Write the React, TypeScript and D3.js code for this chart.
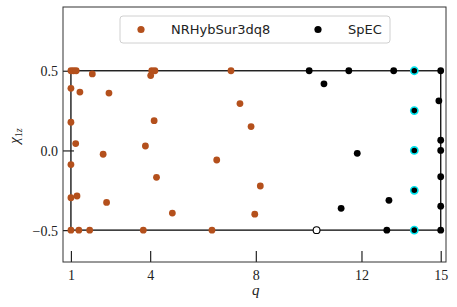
import { useRef, useEffect } from 'react';
import * as d3 from 'd3';

const W = 457;
const H = 307;

const NR_COLOR = '#b4501c';
const SERIF = '"Liberation Serif", "DejaVu Serif", serif';
const SANS = '"DejaVu Sans", sans-serif';

// NRHybSur3dq8 training points: [q, chi1z]
const nrQ = [1.0, 1.1, 1.2, 1.81, 4.06, 4.18, 4.02, 1.0, 1.34, 2.44, 1.0, 4.15, 1.18, 3.82, 2.22,
  1.0, 4.24, 1.0, 1.23, 2.35, 4.84, 1.0, 1.3, 1.71, 3.74, 7.06, 7.4, 7.82, 6.52, 8.17, 7.96, 6.34];
const nrChi = [0.5, 0.5, 0.5, 0.48, 0.5, 0.5, 0.47, 0.39, 0.366, 0.36, 0.177, 0.187, 0.043, 0.028, -0.024,
  -0.089, -0.169, -0.297, -0.286, -0.326, -0.393, -0.5, -0.5, -0.5, -0.5, 0.5, 0.294, 0.15, -0.06, -0.223, -0.4, -0.5];

// SpEC points
const specQ = [10.02, 11.52, 13.22, 15.0, 10.58, 14.93, 15.0, 15.0, 11.84, 15.0, 13.04, 11.23, 15.0, 12.96, 15.0];
const specChi = [0.5, 0.5, 0.5, 0.5, 0.418, 0.311, 0.064, 0.0, -0.018, -0.165, -0.313, -0.363, -0.35, -0.5, -0.5];

// highlighted SpEC runs at q = 14
const hiQ = [14, 14, 14, 14, 14];
const hiChi = [0.5, 0.25, 0.0, -0.25, -0.5];

// hollow point
const openQ = [10.3];
const openChi = [-0.5];

const xTicks = [1, 4, 8, 12, 15];
const yTicks = [0.5, 0.0, -0.5];
const legendLabels = ['NRHybSur3dq8', 'SpEC'];

export default function App() {
  const svgRef = useRef<SVGSVGElement>(null);

  useEffect(() => {
    const svg = d3.select(svgRef.current);
    svg.selectAll('*').remove();

    const margin = { top: 7, right: 11, bottom: 45, left: 63 };
    const width = W - margin.left - margin.right;
    const height = H - margin.top - margin.bottom;

    const x = d3.scaleLinear().domain([0.7, 15.2]).range([0, width]);
    const y = d3.scaleLinear().domain([-0.7, 0.9]).range([height, 0]);

    svg.append('rect').attr('width', W).attr('height', H).attr('fill', '#fff');
    const g = svg.append('g').attr('transform', `translate(${margin.left},${margin.top})`);

    // boundary rectangle of the training region
    g.append('rect')
      .attr('x', x(1)).attr('y', y(0.5))
      .attr('width', x(15) - x(1)).attr('height', y(-0.5) - y(0.5))
      .attr('fill', 'none')
      .attr('stroke', '#1a1a1a')
      .attr('stroke-width', 1.4);

    // X axis (inward ticks)
    g.append('g')
      .attr('transform', `translate(0,${height})`)
      .call(d3.axisBottom(x).tickValues(xTicks).tickSizeInner(-11).tickSizeOuter(0).tickPadding(5).tickFormat(d3.format('d')))
      .call(sel => {
        sel.select('.domain').remove();
        sel.selectAll('line').attr('stroke', '#222').attr('stroke-width', 1.2);
        sel.selectAll('text')
          .attr('font-family', SERIF)
          .attr('font-size', 14)
          .attr('fill', '#222')
          .attr('dy', '0.9em');
      });

    g.append('g')
      .call(d3.axisLeft(y).tickValues(yTicks).tickSizeInner(-11).tickSizeOuter(0).tickPadding(5)
        .tickFormat(d => (d as number).toFixed(1).replace('-', '\u2212')))
      .call(sel => {
        sel.select('.domain').remove();
        sel.selectAll('line').attr('stroke', '#222').attr('stroke-width', 1.2);
        sel.selectAll('text')
          .attr('font-family', SERIF)
          .attr('font-size', 14)
          .attr('fill', '#222')
          .attr('dy', '0.35em');
      });

    // frame
    g.append('rect')
      .attr('width', width).attr('height', height)
      .attr('fill', 'none')
      .attr('stroke', '#333')
      .attr('stroke-width', 1);

    // NR points
    g.append('g').selectAll('circle')
      .data(nrQ.map((q, i) => [q, nrChi[i]]))
      .join('circle')
      .attr('cx', d => x(d[0])).attr('cy', d => y(d[1]))
      .attr('r', 3.4)
      .attr('fill', NR_COLOR);

    // SpEC points
    g.append('g').selectAll('circle')
      .data(specQ.map((q, i) => [q, specChi[i]]))
      .join('circle')
      .attr('cx', d => x(d[0])).attr('cy', d => y(d[1]))
      .attr('r', 3.4)
      .attr('fill', '#000');

    g.append('g').selectAll('circle')
      .data(hiQ.map((q, i) => [q, hiChi[i]]))
      .join('circle')
      .attr('cx', d => x(d[0])).attr('cy', d => y(d[1]))
      .attr('r', 3.6)
      .attr('fill', '#000')
      .attr('stroke', '#00e5ee')
      .attr('stroke-width', 1.6);

    g.append('g').selectAll('circle')
      .data(openQ.map((q, i) => [q, openChi[i]]))
      .join('circle')
      .attr('cx', d => x(d[0])).attr('cy', d => y(d[1]))
      .attr('r', 3.4)
      .attr('fill', '#fff')
      .attr('stroke', '#000')
      .attr('stroke-width', 1.1);

    // axis labels
    svg.append('text')
      .attr('x', margin.left + x(8)).attr('y', 295)
      .attr('text-anchor', 'middle')
      .attr('font-family', SERIF).attr('font-style', 'italic').attr('font-size', 15)
      .attr('fill', '#222')
      .text('q');

    const yl = svg.append('text')
      .attr('transform', `translate(19,${margin.top + y(0.09)}) rotate(-90)`)
      .attr('text-anchor', 'middle')
      .attr('font-family', SERIF).attr('font-size', 15)
      .attr('fill', '#222');
    yl.append('tspan').attr('font-style', 'italic').text('χ');
    yl.append('tspan').attr('font-size', 10).attr('dy', 3).text('1');
    yl.append('tspan').attr('font-size', 10).attr('font-style', 'italic').text('z');

    // legend
    const lg = svg.append('g').attr('transform', 'translate(120,16)');
    lg.append('rect')
      .attr('width', 270).attr('height', 27).attr('rx', 3)
      .attr('fill', '#fff').attr('fill-opacity', 0.85)
      .attr('stroke', '#d0d0d0');
    const colors = [NR_COLOR, '#000'];
    const offs = [21, 198];
    legendLabels.forEach((lab, i) => {
      lg.append('circle').attr('cx', offs[i]).attr('cy', 13.5).attr('r', 3.6).attr('fill', colors[i]);
      lg.append('text')
        .attr('x', offs[i] + 30).attr('y', 18)
        .attr('font-family', SANS).attr('font-size', 13)
        .attr('fill', '#222')
        .text(lab);
    });
  }, []);

  return (
    <svg ref={svgRef} width={W} height={H} style={{ position: 'absolute', left: 0, top: 0 }} />
  );
}
